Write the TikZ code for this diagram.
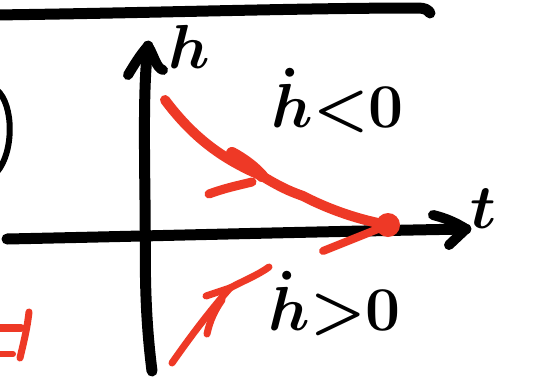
\documentclass[tikz,border=0pt]{standalone}
\usepackage{amsmath}
\definecolor{mred}{RGB}{238,57,38}
\tikzset{
  blk/.style={draw=black, line cap=round, line join=round},
  rd/.style={draw=mred, line cap=round, line join=round},
  lbl/.style={inner sep=0pt, font=\fontsize{20.74}{22}\selectfont\boldmath, scale=3},
}
\begin{document}
\begin{tikzpicture}[x=1pt,y=-1pt]
\useasboundingbox (0,0) rectangle (540,391);
\fill[white] (0,0) rectangle (540,391);
% top border line
\draw[blk, line width=11pt] (-6,15) .. controls (150,13) and (300,8) .. (418,8) .. controls (425,8) and (428,10) .. (430,13);
% partial circle on the left
\draw[blk, line width=6pt] (-3,90) .. controls (14,105) and (14,152) .. (-3,172);
% axes coordinates
\coordinate (ybot) at (152,371);
\coordinate (ytip) at (148,46);
\coordinate (xl) at (7,239);
\coordinate (xtip) at (466,229);
% y axis
\draw[blk, line width=11pt] (ybot) .. controls (143,300) and (146,250) .. (145,200) .. controls (144,120) and (144,80) .. (ytip);
\draw[blk, line width=10pt] (128,75) .. controls (134,65) and (140,55) .. (ytip) .. controls (154,55) and (156,68) .. (163,70);
% x axis
\draw[blk, line width=11pt] (xl) .. controls (150,236) and (300,232) .. (xtip);
\draw[blk, line width=10pt] (433,215) .. controls (445,218) and (455,222) .. (xtip) -- (449,245);
% labels
\node[lbl, anchor=base west] (hl) at (168,68) {$h$};
\node[lbl, anchor=base west] (tl) at (470,228) {$t$};
\node[lbl, anchor=base west] (hneg) at (271,127) {$\dot h{<}0$};
\node[lbl, anchor=base west] (hpos) at (268,330) {$\dot h{>}0$};
% equilibrium point
\coordinate (eq) at (388,225);
% upper red trajectory
\coordinate (ustart) at (165,100);
\coordinate (utip) at (262,176);
\draw[rd, line width=10pt] (ustart) .. controls (195,140) and (225,160) .. (utip) .. controls (285,190) and (295,193) .. (303,196) .. controls (330,210) and (360,220) .. (eq);
\draw[rd, line width=12pt] (232,153) .. controls (245,160) and (255,168) .. (utip);
\draw[rd, line width=9pt] (209,194) .. controls (225,188) and (240,185) .. (252,182);
\fill[mred] (eq) circle (12);
% lower red segment from equilibrium
\coordinate (lend) at (323,251);
\draw[rd, line width=8pt] (eq) -- (lend);
% lower red trajectory
\coordinate (lstart) at (172,363);
\coordinate (lend2) at (269,267);
\coordinate (ltip) at (230,288);
\draw[rd, line width=7pt] (lstart) .. controls (195,330) and (215,305) .. (ltip) .. controls (245,280) and (258,275) .. (lend2);
\draw[rd, line width=7pt] (206,296) -- (ltip);
\draw[rd, line width=7pt] (207,334) .. controls (210,320) and (215,310) .. (222,300);
% bottom-left red symbol
\draw[rd, line width=8pt] (-5,328) -- (21,328);
\draw[rd, line width=7pt] (29,312) .. controls (27,330) and (23,345) .. (20,358);
\draw[rd, line width=6pt] (-5,354) -- (13,354);
\end{tikzpicture}
\end{document}
